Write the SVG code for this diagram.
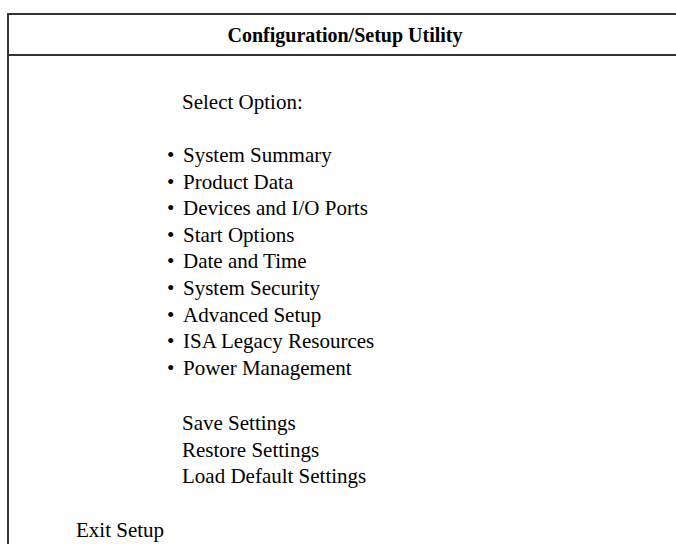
<svg xmlns="http://www.w3.org/2000/svg" width="676" height="544" viewBox="0 0 676 544">
<style>
.t{font-family:"Liberation Serif","Times New Roman",serif;font-size:21px;fill:#000}
.h{font-family:"Liberation Serif","Times New Roman",serif;font-size:20px;font-weight:bold;fill:#000}
.b{stroke:#333;stroke-width:2;fill:none}
</style>
<rect width="676" height="544" fill="#fff"/>
<g id="frame">
<path class="b" d="M8,544 V14 H676"/>
<path class="b" d="M8,55 H676"/>
</g>
<g id="title"><text class="h" x="345" y="42" text-anchor="middle">Configuration/Setup Utility</text></g>
<g id="select"><text class="t" x="182" y="109">Select Option:</text></g>
<g id="options">
<text class="t" x="167" y="162">•</text><text class="t" x="183" y="162">System Summary</text>
<text class="t" x="167" y="188.6">•</text><text class="t" x="183" y="188.6">Product Data</text>
<text class="t" x="167" y="215.2">•</text><text class="t" x="183" y="215.2">Devices and I/O Ports</text>
<text class="t" x="167" y="241.8">•</text><text class="t" x="183" y="241.8">Start Options</text>
<text class="t" x="167" y="268.4">•</text><text class="t" x="183" y="268.4">Date and Time</text>
<text class="t" x="167" y="295">•</text><text class="t" x="183" y="295">System Security</text>
<text class="t" x="167" y="321.6">•</text><text class="t" x="183" y="321.6">Advanced Setup</text>
<text class="t" x="167" y="348.2">•</text><text class="t" x="183" y="348.2">ISA Legacy Resources</text>
<text class="t" x="167" y="374.8">•</text><text class="t" x="183" y="374.8">Power Management</text>
</g>
<g id="settings">
<text class="t" x="182" y="430">Save Settings</text>
<text class="t" x="182" y="456.6">Restore Settings</text>
<text class="t" x="182" y="483.2">Load Default Settings</text>
</g>
<g id="exit"><text class="t" x="76" y="537">Exit Setup</text></g>
</svg>
